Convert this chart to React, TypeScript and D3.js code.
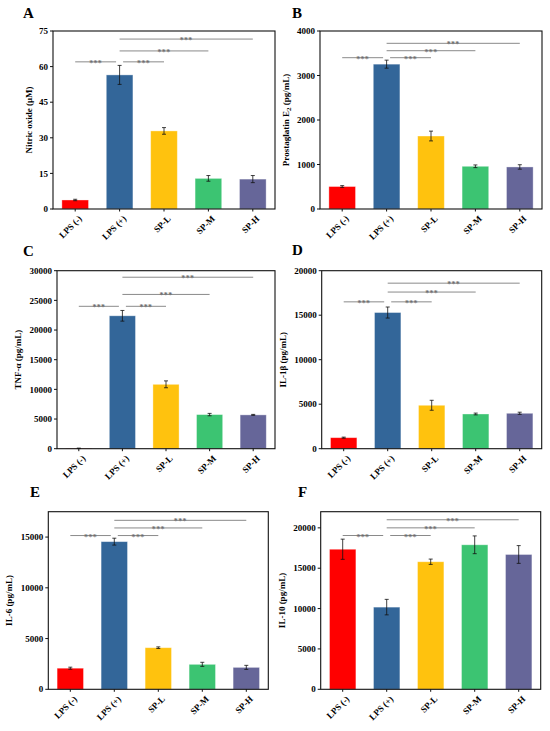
import { useEffect } from 'react';
import * as d3 from 'd3';

// groups shared by all six panels
const groups = ['LPS (-)', 'LPS (+)', 'SP-L', 'SP-M', 'SP-H'];
const barColors = ['#ff0000', '#336699', '#ffc20e', '#3cc472', '#666699'];

// A: nitric oxide (μM)
const noMeans = [3.8, 56.5, 32.9, 12.9, 12.6];
const noErr = [0.3, 4.0, 1.4, 1.2, 1.5];
const noTicks = [0, 15, 30, 45, 60, 75];
const noSig = [62, 62, 66.6, 71.6];

// B: PGE2 (pg/mL)
const pgeMeans = [505, 3255, 1640, 960, 945];
const pgeErr = [20, 90, 110, 30, 50];
const pgeTicks = [0, 1000, 2000, 3000, 4000];
const pgeSig = [3400, 3400, 3557, 3723];

// C: TNF-α (pg/mL)
const tnfMeans = [60, 22400, 10850, 5750, 5700];
const tnfErr = [40, 900, 580, 200, 80];
const tnfTicks = [0, 5000, 10000, 15000, 20000, 25000, 30000];
const tnfSig = [24000, 24000, 26000, 28900];

// D: IL-1β (pg/mL)
const il1bMeans = [1240, 15300, 4880, 3900, 3980];
const il1bErr = [60, 620, 560, 100, 120];
const il1bTicks = [0, 5000, 10000, 15000, 20000];
const il1bSig = [16500, 16500, 17600, 18600];

// E: IL-6 (pg/mL)
const il6Means = [2080, 14550, 4100, 2460, 2160];
const il6Err = [100, 340, 80, 200, 200];
const il6Ticks = [0, 5000, 10000, 15000];
const il6Sig = [15150, 15150, 15900, 16650];

// F: IL-10 (pg/mL)
const il10Means = [17350, 10180, 15800, 17900, 16700];
const il10Err = [1250, 960, 330, 1100, 1100];
const il10Ticks = [0, 5000, 10000, 15000, 20000];
const il10Sig = [19050, 19050, 20000, 21000];

// comparisons drawn in every panel (group index pairs)
const sigPairs: [number, number][] = [[0, 1], [1, 2], [1, 3], [1, 4]];

const FONT = '"Liberation Serif", "Times New Roman", serif';

interface Panel {
  letter: string;
  lx: number; ly: number;
  frame: { x0: number; x1: number; y0: number; y1: number };
  yMax: number;
  ticks: number[];
  means: number[];
  errs: number[];
  sig: number[];
  title: string;
  sub?: string;
  titleRest?: string;
}

const panels: Panel[] = [
  { letter: 'A', lx: 23, ly: 18, frame: { x0: 53, x1: 275, y0: 31, y1: 209 }, yMax: 75, ticks: noTicks,
    means: noMeans, errs: noErr, sig: noSig, title: 'Nitric oxide (μM)' },
  { letter: 'B', lx: 292, ly: 18, frame: { x0: 320, x1: 542, y0: 31, y1: 209 }, yMax: 4000, ticks: pgeTicks,
    means: pgeMeans, errs: pgeErr, sig: pgeSig, title: 'Prostaglatin E', sub: '2', titleRest: ' (pg/mL)' },
  { letter: 'C', lx: 23, ly: 256, frame: { x0: 57, x1: 275, y0: 270.7, y1: 448.7 }, yMax: 30000, ticks: tnfTicks,
    means: tnfMeans, errs: tnfErr, sig: tnfSig, title: 'TNF-α (pg/mL)' },
  { letter: 'D', lx: 292, ly: 255, frame: { x0: 321.7, x1: 541.7, y0: 270.7, y1: 448.7 }, yMax: 20000, ticks: il1bTicks,
    means: il1bMeans, errs: il1bErr, sig: il1bSig, title: 'IL-1β (pg/mL)' },
  { letter: 'E', lx: 30, ly: 497, frame: { x0: 48.3, x1: 268.3, y0: 511.7, y1: 689.3 }, yMax: 17500, ticks: il6Ticks,
    means: il6Means, errs: il6Err, sig: il6Sig, title: 'IL-6 (pg/mL)' },
  { letter: 'F', lx: 298, ly: 497, frame: { x0: 320.7, x1: 540.7, y0: 511.7, y1: 689.3 }, yMax: 22000, ticks: il10Ticks,
    means: il10Means, errs: il10Err, sig: il10Sig, title: 'IL-10 (pg/mL)' },
];

function BarPanel({ p }: { p: Panel }) {
  const { x0, x1, y0, y1 } = p.frame;
  const x = d3.scaleBand().domain(groups).range([x0, x1]).paddingInner(0.4).paddingOuter(0.2);
  const y = d3.scaleLinear().domain([0, p.yMax]).range([y1, y0]);
  const cx = (i: number) => x(groups[i])! + x.bandwidth() / 2;
  const maxDigits = d3.max(p.ticks, t => String(t).length) || 1;
  const titleX = x0 - maxDigits * 5 - 11;
  const titleY = (y0 + y1) / 2;

  return (
    <g>
      <text x={p.lx} y={p.ly} fontFamily={FONT} fontWeight="bold" fontSize={15}>{p.letter}</text>

      {groups.map((g, i) => {
        const top = y(p.means[i]);
        return (
          <rect key={g} x={x(g)} y={top} width={x.bandwidth()} height={Math.max(0, y1 - top)}
            fill={barColors[i]} stroke="#ffffff" strokeOpacity={0.45} strokeWidth={0.8} />
        );
      })}

      {/* error bars */}
      {groups.map((g, i) => {
        const c = cx(i);
        const hi = y(p.means[i] + p.errs[i]);
        const lo = y(Math.max(0, p.means[i] - p.errs[i]));
        return (
          <g key={g} stroke="#111" strokeWidth={0.8}>
            <line x1={c} x2={c} y1={hi} y2={lo} />
            <line x1={c - 2} x2={c + 2} y1={hi} y2={hi} />
            <line x1={c - 2} x2={c + 2} y1={lo} y2={lo} />
          </g>
        );
      })}

      {/* significance lines */}
      {sigPairs.map(([a, b], k) => {
        const span = b - a;
        const xa = cx(a) + (span === 1 && a === 1 ? 3.5 : 0);
        const xb = cx(b) - (span === 1 && b === 1 ? 3.5 : 0);
        const ly = y(p.sig[k]);
        return (
          <g key={k}>
            <line x1={xa} x2={xb} y1={ly} y2={ly} stroke="#8a8a8a" strokeWidth={1} />
            <text x={(xa + xb) / 2} y={ly + 4} textAnchor="middle" fontFamily={FONT}
              fontSize={8} fontWeight="bold" fill="#6e6e6e" letterSpacing={0.3}>***</text>
          </g>
        );
      })}

      {/* frame */}
      <rect x={x0} y={y0} width={x1 - x0} height={y1 - y0} fill="none" stroke="#111" strokeWidth={1.1} />

      {/* y ticks */}
      {p.ticks.map(t => (
        <g key={t}>
          <line x1={x0 - 3} x2={x0} y1={y(t)} y2={y(t)} stroke="#111" strokeWidth={1} />
          <text x={x0 - 5} y={y(t)} dy="0.35em" textAnchor="end" fontFamily={FONT}
            fontWeight="bold" fontSize={9}>{t}</text>
        </g>
      ))}

      {/* x ticks and slanted labels */}
      {groups.map((g, i) => (
        <g key={g}>
          <line x1={cx(i)} x2={cx(i)} y1={y1} y2={y1 + 2.5} stroke="#111" strokeWidth={1} />
          <g transform={`translate(${cx(i) + 5},${y1 + 8}) rotate(-45)`}>
            <text dy="0.35em" textAnchor="end" fontFamily={FONT} fontWeight="bold" fontSize={9}>{g}</text>
          </g>
        </g>
      ))}

      <g transform={`translate(${titleX},${titleY}) rotate(-90)`}>
        <text x={0} y={0} textAnchor="middle" fontFamily={FONT} fontWeight="bold" fontSize={9}>
          {p.title}
          {p.sub && <tspan fontSize={7} dy={2}>{p.sub}</tspan>}
          {p.titleRest && <tspan dy={p.sub ? -2 : 0}>{p.titleRest}</tspan>}
        </text>
      </g>
    </g>
  );
}

export default function App() {
  useEffect(() => {
    document.body.style.margin = '0';
  }, []);

  return (
    <svg width={550} height={731} style={{ display: 'block', background: '#fff' }}>
      {panels.map(p => <BarPanel key={p.letter} p={p} />)}
    </svg>
  );
}
